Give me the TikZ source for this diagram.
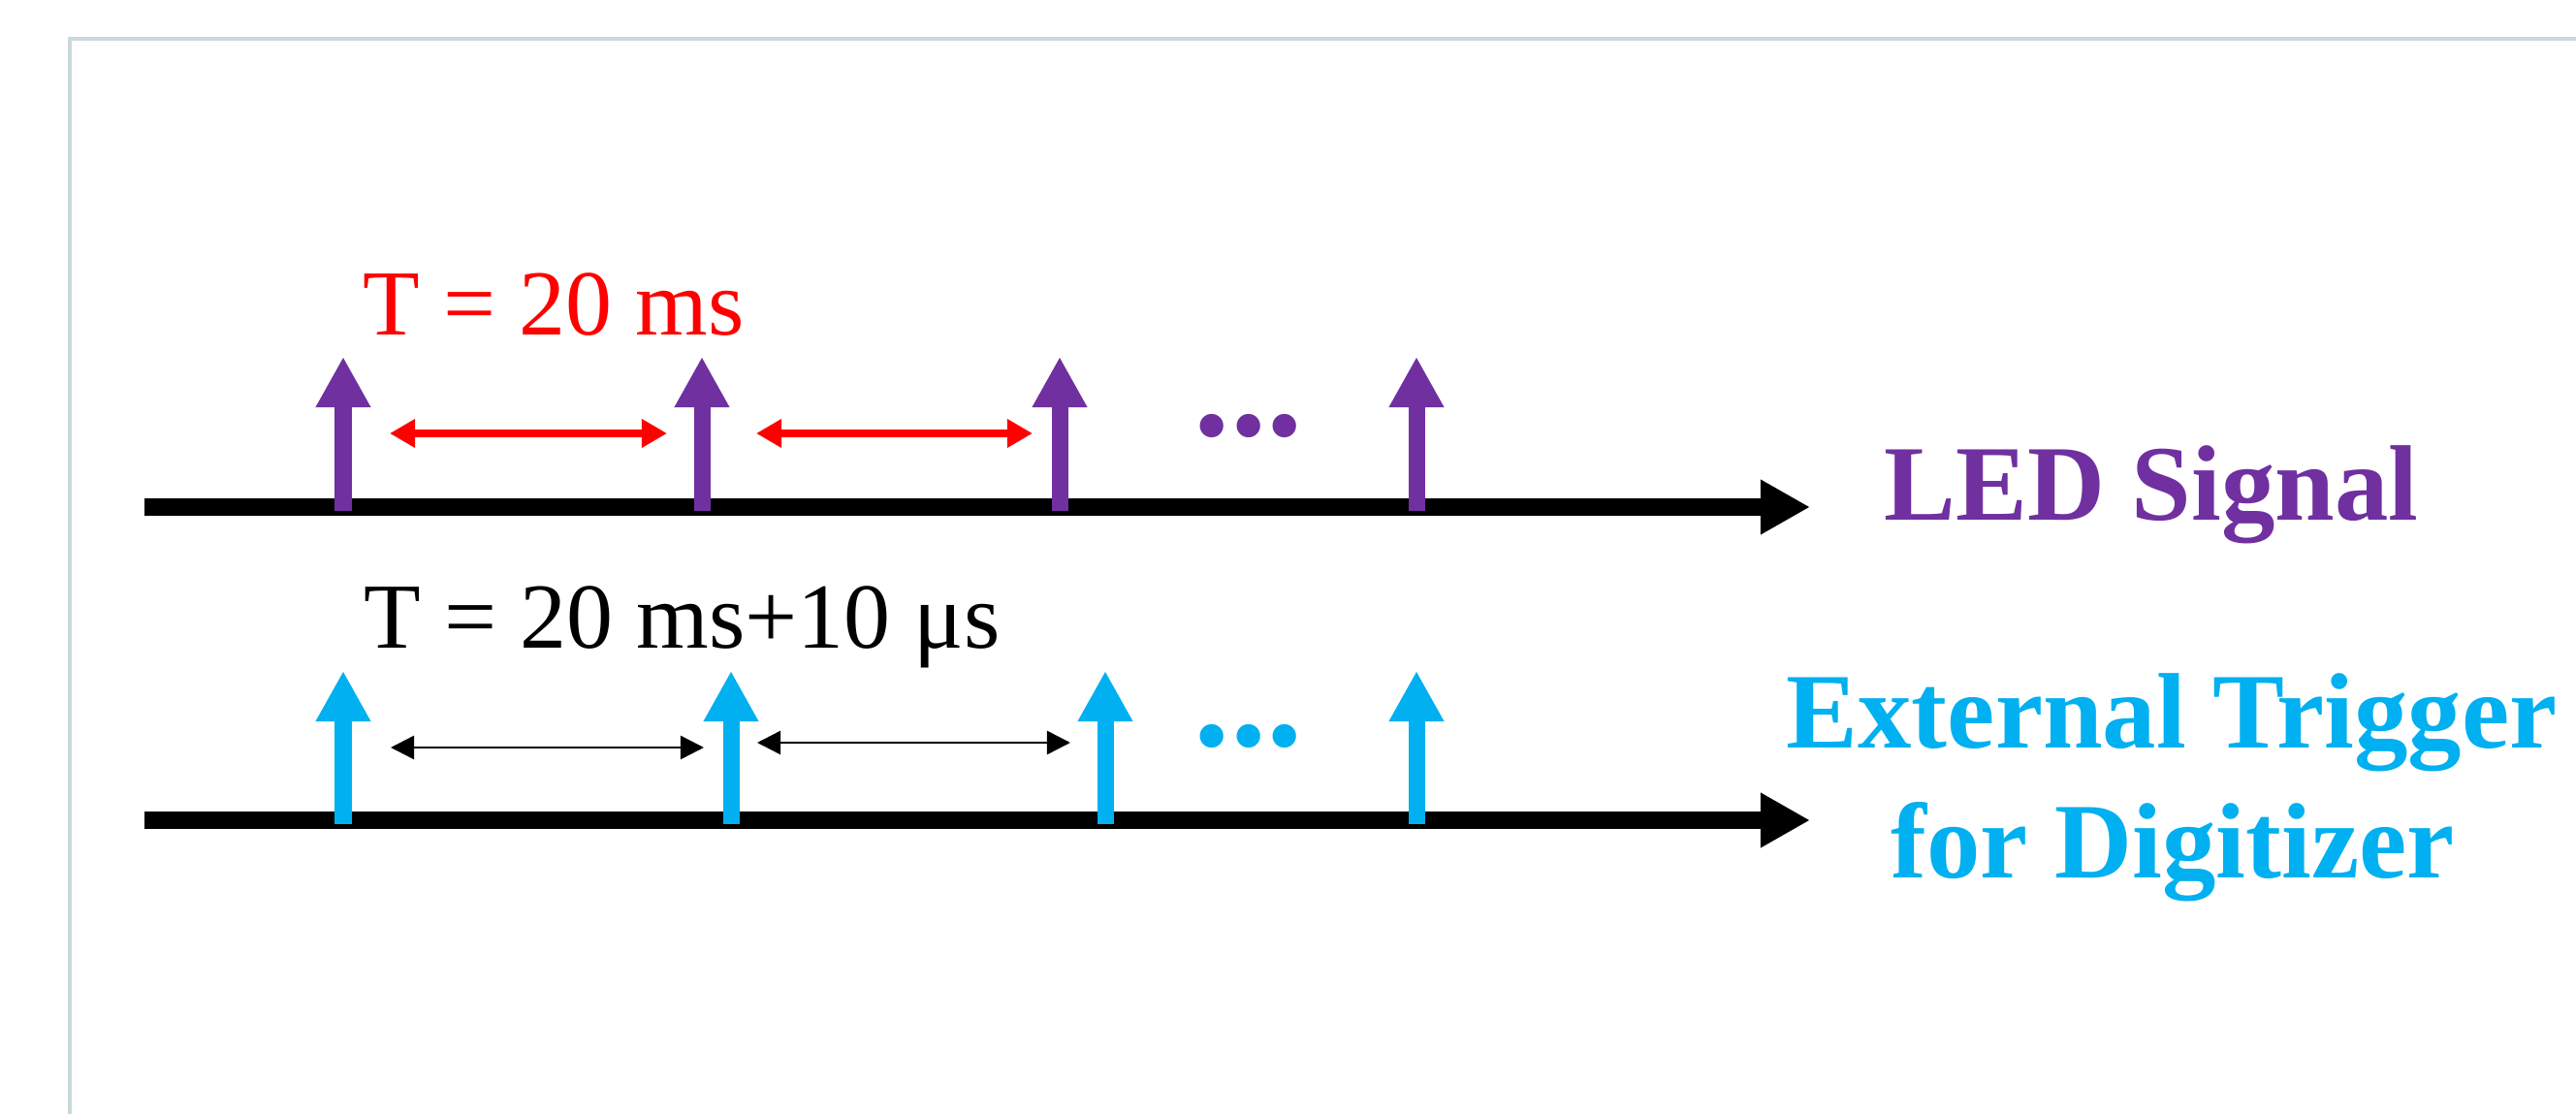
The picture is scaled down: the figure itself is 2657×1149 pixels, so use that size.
\documentclass[tikz,border=0pt]{standalone}
\usepackage{fontspec}
\setmainfont{Liberation Serif}
\usetikzlibrary{arrows.meta}
\definecolor{ledpurple}{HTML}{7030A0}
\definecolor{trigblue}{HTML}{00B0F0}
\definecolor{framegray}{HTML}{C9D9DC}
\begin{document}
\begin{tikzpicture}[x=0.01cm,y=-0.01cm,
  axisline/.style={line width=0.18cm,-{Triangle[length=0.51cm,width=0.53cm]}},
  tickarrow/.style={line width=0.17cm,-{Triangle[length=0.52cm,width=0.53cm]}},
  periodred/.style={red,line width=0.07cm,{Triangle[length=0.26cm,width=0.28cm]}-{Triangle[length=0.26cm,width=0.28cm]}},
  periodblack/.style={black,line width=0.025cm,{Triangle[length=0.24cm,width=0.24cm]}-{Triangle[length=0.24cm,width=0.24cm]}},
  label/.style={inner sep=0pt,anchor=base west,font=\fontsize{27.3}{33}\selectfont},
  title/.style={inner sep=0pt,anchor=base,font=\bfseries\fontsize{31.5}{38}\selectfont},
  dotsstyle/.style={inner sep=0pt,anchor=base,font=\bfseries\fontsize{42.5}{50}\selectfont}]
\useasboundingbox (0,0) rectangle (2657,1149);
% frame
\draw[framegray,line width=0.04cm] (72,1149) -- (72,40) -- (2657,40);
% axes
\coordinate (ledstart) at (149,523);
\coordinate (ledend) at (1867,523);
\coordinate (trigstart) at (149,846);
\coordinate (trigend) at (1867,846);
\draw[axisline] (ledstart) -- (ledend);
\draw[axisline] (trigstart) -- (trigend);
% LED ticks
\foreach \i/\x in {1/354,2/724,3/1093,4/1461}{
  \coordinate (lb\i) at (\x,527);
  \coordinate (lt\i) at (\x,368);
  \draw[tickarrow,ledpurple] (lb\i) -- (lt\i);
}
% trigger ticks
\foreach \i/\x in {1/354,2/754,3/1140,4/1461}{
  \coordinate (tb\i) at (\x,850);
  \coordinate (tt\i) at (\x,692);
  \draw[tickarrow,trigblue] (tb\i) -- (tt\i);
}
% period arrows
\coordinate (r1a) at (402,447); \coordinate (r1b) at (688,447);
\coordinate (r2a) at (780,447); \coordinate (r2b) at (1065,447);
\draw[periodred] (r1a) -- (r1b);
\draw[periodred] (r2a) -- (r2b);
\coordinate (k1a) at (403,771); \coordinate (k1b) at (726,771);
\coordinate (k2a) at (781,766); \coordinate (k2b) at (1104,766);
\draw[periodblack] (k1a) -- (k1b);
\draw[periodblack] (k2a) -- (k2b);
% dots
\node[dotsstyle,text=ledpurple] (ledDots) at (1288,450) {...};
\node[dotsstyle,text=trigblue] (trigDots) at (1288,769) {...};
% labels
\node[label,text=red] (ledT) at (374,346) {T = 20 ms};
\node[label,text=black] (trigT) at (375,669) {T = 20 ms+10 μs};
\node[title,text=ledpurple] (ledName) at (2219,537) {LED Signal};
\node[title,text=trigblue] (trigName1) at (2240,771) {External Trigger};
\node[title,text=trigblue] (trigName2) at (2241,905) {for Digitizer};
\end{tikzpicture}
\end{document}
